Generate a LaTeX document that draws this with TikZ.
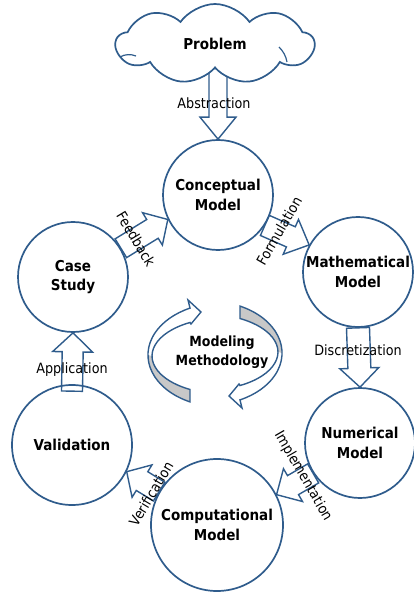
\documentclass[tikz,border=0pt]{standalone}
\usepackage{fontspec}
\setmainfont{DejaVu Sans Condensed}
\usetikzlibrary{calc,shapes.symbols}
\definecolor{stageblue}{HTML}{2F5C8C}
\definecolor{ribbongray}{HTML}{C8C8C8}
\pgfdeclarelayer{back}
\pgfsetlayers{back,main}
\tikzset{
  stage/.style={circle, draw=stageblue, line width=1.7pt, inner sep=0pt,
    align=center, font=\bfseries\fontsize{15}{19.5}\selectfont},
  flowlabel/.style={inner sep=0pt, font=\fontsize{14.2}{16}\selectfont},
  arrowline/.style={draw=stageblue, fill=white, line width=1.4pt, line join=miter},
  curl/.style={draw=stageblue, line width=1.2pt},
}
% block arrow: #1 base, #2 tip, #3 half shaft width, #4 half head width, #5 head length
\newcommand{\blockarrow}[5]{%
  \coordinate (ba-c) at ($(#2)!#5!(#1)$);
  \draw[arrowline] ($(#1)!#3!90:(#2)$) -- ($(ba-c)!#3!-90:(#1)$)
    -- ($(ba-c)!#4!-90:(#1)$) -- (#2) -- ($(ba-c)!#4!90:(#1)$)
    -- ($(ba-c)!#3!90:(#1)$) -- ($(#1)!#3!-90:(#2)$) -- cycle;}
% curved ribbon arrow of the central cycle symbol
\newcommand{\ribbonarrow}{%
  \fill[ribbongray] (190.0,401.9) arc[start angle=115.6, end angle=180, x radius=74, y radius=52]
    -- (152,356) arc[start angle=180, end angle=118.2, x radius=72, y radius=38] -- cycle;
  \draw[arrowline, fill=none] (190.0,401.9) arc[start angle=115.6, end angle=244.4, x radius=74, y radius=52]
    -- (188,300) -- (201,312) -- (191,324) -- (190.0,322.5)
    arc[start angle=241.8, end angle=118.2, x radius=72, y radius=38] -- cycle;}
\begin{document}
\begin{tikzpicture}[x=1pt, y=-1pt]
\useasboundingbox (0,0) rectangle (414,593);

% stages of the modelling cycle
\node[stage, minimum size=110pt] (concept) at (218,195) {Conceptual\\Model};
\node[stage, minimum size=110pt] (math) at (358,272) {Mathematical\\Model};
\node[stage, minimum size=110pt] (numer) at (360,443) {Numerical\\Model};
\node[stage, minimum size=132pt] (comput) at (217,525) {Computational\\Model};
\node[stage, minimum size=120pt] (valid) at (72,445) {Validation};
\node[stage, minimum size=110pt] (case) at (73,277) {Case\\Study};

% the problem cloud
\node[cloud, draw=stageblue, fill=white, line width=1.7pt, cloud puffs=9,
  cloud puff arc=110, aspect=2.5, minimum width=198pt, minimum height=80pt,
  inner sep=0pt, font=\bfseries\fontsize{15}{17}\selectfont] (problem) at (215,44) {Problem};
% small inner curls of the cloud outline
\draw[curl] (120,57) .. controls (125,54) and (131,54) .. (136,56);
\draw[curl] (279,47) .. controls (283,51) and (286,56) .. (287,62);

% block arrows between the stages
\begin{pgfonlayer}{back}
\blockarrow{problem.south -| concept.north}{concept.north}{9pt}{18pt}{22pt}
\blockarrow{concept.-33}{math.151}{11pt}{19pt}{20pt}
\blockarrow{math.south}{numer.north}{11.5pt}{19.5pt}{19pt}
\blockarrow{numer.213}{comput.27}{11pt}{19pt}{19pt}
\blockarrow{comput.150}{valid.-26}{11pt}{19pt}{18pt}
\coordinate (appbase) at ($(valid.north)+(0,7)$);
\blockarrow{appbase}{case.south}{10.5pt}{20pt}{19pt}
\blockarrow{case.31}{concept.206}{11pt}{19pt}{18pt}
\end{pgfonlayer}

% arrow labels
\node[flowlabel] (abstr) at (214,103) {Abstraction};
\node[flowlabel, rotate=60] (formu) at (279,231) {Formulation};
\node[flowlabel] (discr) at (358,350) {Discretization};
\node[flowlabel, rotate=-60] (imple) at (303,476) {Implementation};
\node[flowlabel, rotate=59] (verif) at (151,494) {Verification};
\node[flowlabel] (appl) at (72,370) {Application};
\node[flowlabel, rotate=-59] (feedb) at (136,239) {Feedback};

% central cycle symbol
\ribbonarrow
\begin{scope}[rotate around={180:(215,354)}]
\ribbonarrow
\end{scope}
\node[align=center, inner sep=0pt, font=\bfseries\fontsize{14}{19}\selectfont] (method) at (222,352) {Modeling\\Methodology};
\end{tikzpicture}
\end{document}
